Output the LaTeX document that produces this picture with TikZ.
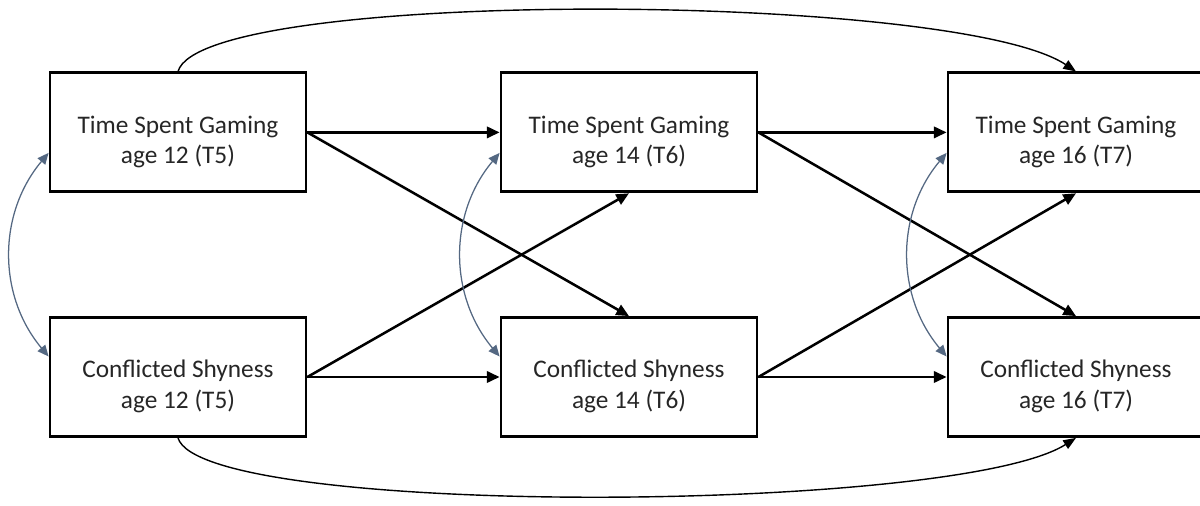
\documentclass[tikz,border=0pt]{standalone}
\usepackage{fontspec}
\setmainfont{Carlito}
\usepackage{tikz}
\usetikzlibrary{arrows.meta,positioning,calc}

\definecolor{txtgray}{RGB}{38,38,38}
\definecolor{slate}{RGB}{84,104,130}

% two-line box text, set a little below the centre
\newcommand{\boxtext}[2]{\rule{0pt}{26pt}#1\\#2}

\begin{document}
\begin{tikzpicture}[
  var/.style={draw, line width=2pt, minimum width=6.4cm, minimum height=2.975cm,
              align=center, text=txtgray, font=\fontsize{18}{22}\selectfont},
  arr/.style={-{Triangle[length=9pt,width=8pt]}, line width=1.8pt},
  cov/.style={{Triangle[length=8pt,width=7pt]}-{Triangle[length=8pt,width=7pt]},
              line width=0.9pt, draw=slate},
  stab/.style={-{Triangle[length=9pt,width=7pt]}, line width=1pt}
]
  \useasboundingbox (0,0) rectangle (30,12.65);

  % time spent gaming
  \node[var] (g12) at (4.45, 9.34)  {\boxtext{Time Spent Gaming}{age 12 (T5)}};
  \node[var] (g14) at (15.725, 9.34) {\boxtext{Time Spent Gaming}{age 14 (T6)}};
  \node[var] (g16) at (26.9, 9.34)  {\boxtext{Time Spent Gaming}{age 16 (T7)}};

  % conflicted shyness
  \node[var] (s12) at (4.45, 3.225)  {\boxtext{Conflicted Shyness}{age 12 (T5)}};
  \node[var] (s14) at (15.725, 3.225) {\boxtext{Conflicted Shyness}{age 14 (T6)}};
  \node[var] (s16) at (26.9, 3.225)  {\boxtext{Conflicted Shyness}{age 16 (T7)}};

  % cross-lagged paths
  \draw[arr] (g12.east) -- (g14.west);
  \draw[arr] (s12.east) -- (s14.west);
  \draw[arr] (g12.east) -- (s14.north);
  \draw[arr] (s12.east) -- (g14.south);
  \draw[arr] (g14.east) -- (g16.west);
  \draw[arr] (s14.east) -- (s16.west);
  \draw[arr] (g14.east) -- (s16.north);
  \draw[arr] (s14.east) -- (g16.south);

  % covariances
  \draw[cov] (g12.189) to[bend right=40] (s12.171);
  \draw[cov] (g14.189) to[bend right=40] (s14.171);
  \draw[cov] (g16.189) to[bend right=40] (s16.171);

  % T5 -> T7
  \draw[stab] (g12.north) .. controls +(0.6,2.1) and +(-3,2.0) .. (g16.north);
  \draw[stab] (s12.south) .. controls +(0.6,-2.0) and +(-3,-1.9) .. (s16.south);
\end{tikzpicture}
\end{document}
